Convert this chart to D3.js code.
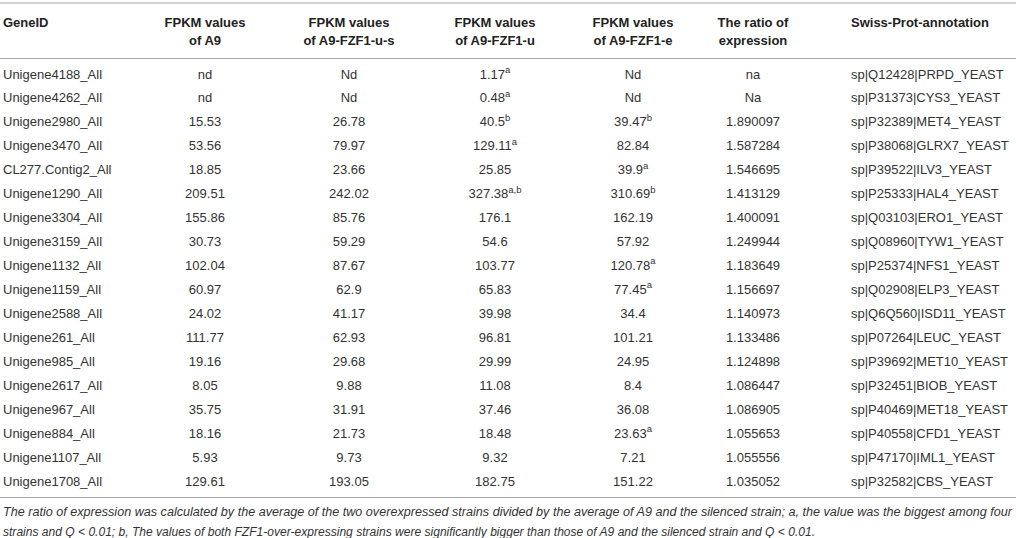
<!DOCTYPE html>
<html><head><meta charset="utf-8">
<script src="https://cdn.jsdelivr.net/npm/d3@7"></script>
<style>
html,body{margin:0;padding:0;background:#fff;}
svg{display:block;font-family:"Liberation Sans",Arial,Helvetica,sans-serif;}
</style></head>
<body>
<script>
const headers = [["GeneID"],["FPKM values","of A9"],["FPKM values","of A9-FZF1-u-s"],["FPKM values","of A9-FZF1-u"],["FPKM values","of A9-FZF1-e"],["The ratio of","expression"],["Swiss-Prot-annotation"]];
const geneIds = ["Unigene4188_All","Unigene4262_All","Unigene2980_All","Unigene3470_All","CL277.Contig2_All","Unigene1290_All","Unigene3304_All","Unigene3159_All","Unigene1132_All","Unigene1159_All","Unigene2588_All","Unigene261_All","Unigene985_All","Unigene2617_All","Unigene967_All","Unigene884_All","Unigene1107_All","Unigene1708_All"];
const fpkmA9 = ["nd","nd","15.53","53.56","18.85","209.51","155.86","30.73","102.04","60.97","24.02","111.77","19.16","8.05","35.75","18.16","5.93","129.61"];
const fpkmUS = ["Nd","Nd","26.78","79.97","23.66","242.02","85.76","59.29","87.67","62.9","41.17","62.93","29.68","9.88","31.91","21.73","9.73","193.05"];
const fpkmU = ["1.17^a","0.48^a","40.5^b","129.11^a","25.85","327.38^a,b","176.1","54.6","103.77","65.83","39.98","96.81","29.99","11.08","37.46","18.48","9.32","182.75"];
const fpkmE = ["Nd","Nd","39.47^b","82.84","39.9^a","310.69^b","162.19","57.92","120.78^a","77.45^a","34.4","101.21","24.95","8.4","36.08","23.63^a","7.21","151.22"];
const ratios = ["na","Na","1.890097","1.587284","1.546695","1.413129","1.400091","1.249944","1.183649","1.156697","1.140973","1.133486","1.124898","1.086447","1.086905","1.055653","1.055556","1.035052"];
const annotations = ["sp|Q12428|PRPD_YEAST","sp|P31373|CYS3_YEAST","sp|P32389|MET4_YEAST","sp|P38068|GLRX7_YEAST","sp|P39522|ILV3_YEAST","sp|P25333|HAL4_YEAST","sp|Q03103|ERO1_YEAST","sp|Q08960|TYW1_YEAST","sp|P25374|NFS1_YEAST","sp|Q02908|ELP3_YEAST","sp|Q6Q560|ISD11_YEAST","sp|P07264|LEUC_YEAST","sp|P39692|MET10_YEAST","sp|P32451|BIOB_YEAST","sp|P40469|MET18_YEAST","sp|P40558|CFD1_YEAST","sp|P47170|IML1_YEAST","sp|P32582|CBS_YEAST"];
const footnotes = ["The ratio of expression was calculated by the average of the two overexpressed strains divided by the average of A9 and the silenced strain; a, the value was the biggest among four","strains and Q < 0.01; b, The values of both FZF1-over-expressing strains were significantly bigger than those of A9 and the silenced strain and Q < 0.01."];

const W = 1016, H = 538;
const columns = [geneIds, fpkmA9, fpkmUS, fpkmU, fpkmE, ratios, annotations];
const colX = d3.scaleOrdinal().domain(d3.range(7)).range([3, 205, 349, 495, 633, 753, 851]);
const colAnchor = i => (i === 0 || i === 6) ? "start" : "middle";
const y = d3.scaleBand().domain(d3.range(geneIds.length)).range([62, 493]);

const svg = d3.select("body").append("svg").attr("width", W).attr("height", H);
const lineColor = "#a6a6a6";
[3, 58.5, 497.5].forEach(v => svg.append("line").attr("x1", 0).attr("x2", W).attr("y1", v).attr("y2", v)
  .attr("stroke", lineColor).attr("stroke-width", 1.2));

// headers
headers.forEach((h, i) => {
  h.forEach((t, k) => {
    svg.append("text").attr("x", colX(i)).attr("y", 22 + k * 18).attr("dy", "0.35em")
      .attr("text-anchor", colAnchor(i)).attr("font-size", 13).attr("font-weight", "bold")
      .attr("fill", "#222").text(t);
  });
});

// body
columns.forEach((col, i) => {
  const g = svg.append("g");
  g.selectAll("text").data(col).join("text")
    .attr("x", colX(i)).attr("y", (d, r) => y(r) + y.bandwidth() / 2).attr("dy", "0.35em")
    .attr("text-anchor", colAnchor(i)).attr("font-size", 13).attr("fill", "#333")
    .each(function(d) {
      const parts = d.split("^");
      const t = d3.select(this);
      t.append("tspan").text(parts[0]);
      if (parts[1]) t.append("tspan").attr("font-size", 9.5).attr("dy", "-0.6em").text(parts[1]);
    });
});

// footnotes
const fnWidths = [1009, 812];
footnotes.forEach((f, k) => svg.append("text").attr("x", 3).attr("y", 512 + k * 20).attr("dy", "0.35em")
    .attr("font-size", 12).attr("font-style", "italic").attr("fill", "#333")
    .attr("textLength", fnWidths[k]).attr("lengthAdjust", "spacingAndGlyphs").text(f));
</script>
</body></html>
